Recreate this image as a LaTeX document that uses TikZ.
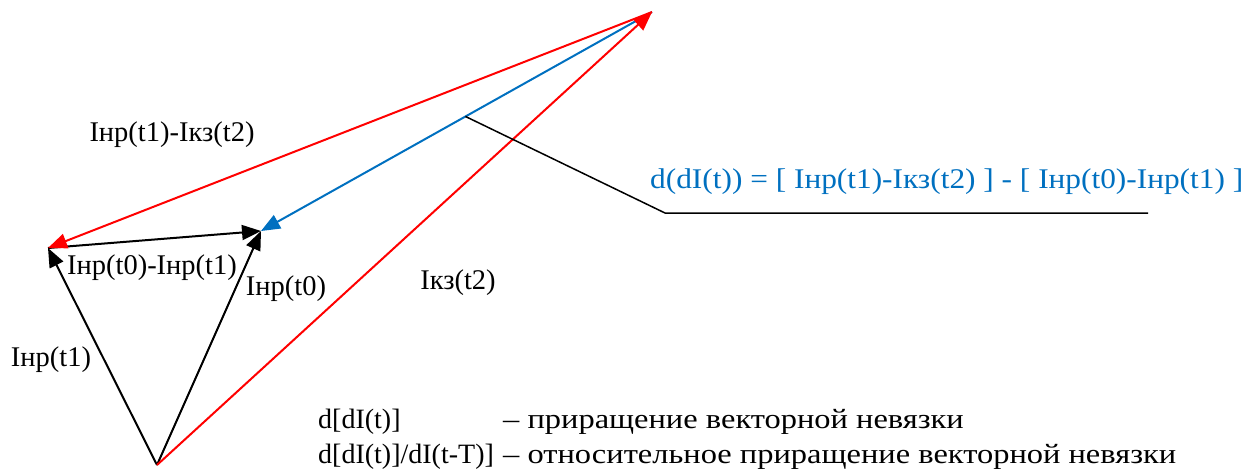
\documentclass[tikz,border=0pt]{standalone}
\usepackage{fontspec}
\setmainfont{Liberation Serif}
\newfontfamily\widefont[FakeStretch=1.16]{Liberation Serif}
\newfontfamily\eqnfont[FakeStretch=1.1]{Liberation Serif}
\usetikzlibrary{arrows.meta,positioning}
\definecolor{VecRed}{HTML}{FF0000}
\definecolor{VecBlue}{HTML}{0070C0}

\begin{document}
\begin{tikzpicture}[
  x=1pt, y=-1pt,
  vec/.style={-{Triangle[length=19pt, width=15pt]}, line width=2pt},
  lbl/.style={font=\fontsize{28.5}{31}\selectfont, inner sep=0pt},
  note/.style={font=\fontsize{28}{32}\selectfont, inner sep=0pt, anchor=base west}
]
  \useasboundingbox (0,0) rectangle (1255,472);

  \coordinate (orig) at (157,465);
  \coordinate (nr1) at (48,248);
  \coordinate (nr0) at (261,231);
  \coordinate (kz2) at (652,12);
  \coordinate (bend) at (665,213);
  \coordinate (lend) at (1148,213);

  \draw[vec, VecBlue] (kz2) -- coordinate[pos=0.477] (tap) (nr0);
  \draw[vec] (orig) -- (nr1);
  \draw[vec] (orig) -- (nr0);
  \draw[vec] (nr1) -- (nr0);
  \draw[vec, VecRed] (orig) -- (kz2);
  \draw[vec, VecRed] (kz2) -- (nr1);
  \draw[line width=1.5pt] (tap) -- (bend) -- (lend);

  \node[lbl] (diffkz) at (172,135) {Iнр(t1)-Iкз(t2)};
  \node[lbl] (diffnr) at (152,268) {Iнр(t0)-Iнр(t1)};
  \node[lbl] (lblnr0) at (286,289) {Iнр(t0)};
  \node[lbl] (lblnr1) at (51,360) {Iнр(t1)};
  \node[lbl] (lblkz2) at (458,283) {Iкз(t2)};
  \node[lbl, text=VecBlue, anchor=base west] (eqn) at (650,188)
    {\eqnfont d(dI(t)) = [ Iнр(t1)-Iкз(t2) ] - [ Iнр(t0)-Iнр(t1) ]};

  \node[note] (inc) at (318,428) {d[dI(t)]};
  \node[note] (incdesc) at (503,428) {\widefont – приращение векторной невязки};
  \node[note] (rel) at (318,463) {d[dI(t)]/dI(t-T)]};
  \node[note] (reldesc) at (503,463) {\widefont – относительное приращение векторной невязки};
\end{tikzpicture}
\end{document}
